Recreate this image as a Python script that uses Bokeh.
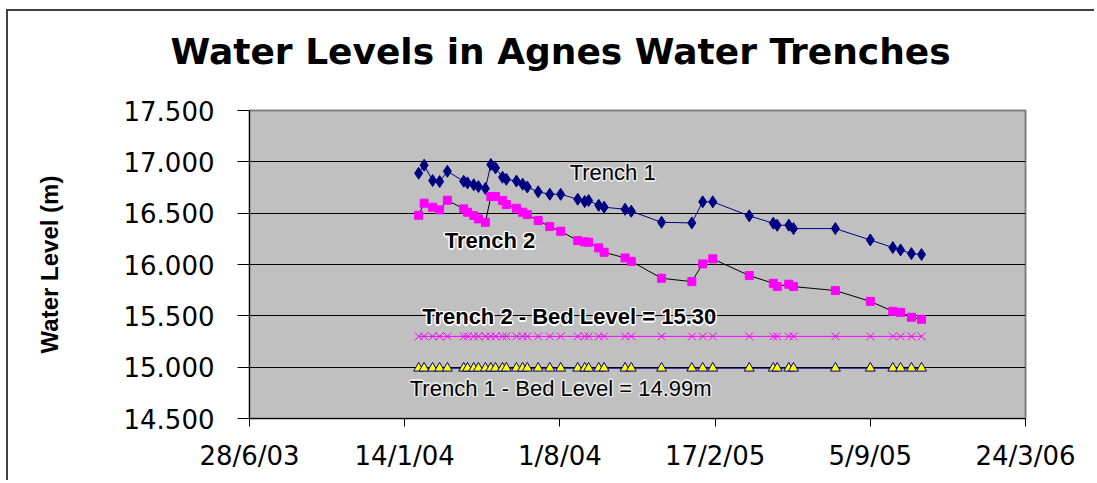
import pandas as pd
from bokeh.plotting import figure
from bokeh.models import Range1d, FixedTicker, NumeralTickFormatter, Label, ColumnDataSource, Title
from bokeh.embed import file_html
from bokeh.resources import INLINE

# ---------------- data ----------------
dates = ["2004-02-01", "2004-02-08", "2004-02-19", "2004-02-28", "2004-03-09", "2004-03-30",
         "2004-04-04", "2004-04-12", "2004-04-18", "2004-04-27", "2004-05-04", "2004-05-10",
         "2004-05-19", "2004-05-24", "2004-06-06", "2004-06-14", "2004-06-20", "2004-07-04",
         "2004-07-19", "2004-08-02", "2004-08-24", "2004-09-02", "2004-09-07", "2004-09-20",
         "2004-09-27", "2004-10-24", "2004-11-01", "2004-12-10", "2005-01-18", "2005-02-01",
         "2005-02-14", "2005-04-02", "2005-05-03", "2005-05-08", "2005-05-23", "2005-05-29",
         "2005-07-22", "2005-09-05", "2005-10-04", "2005-10-14", "2005-10-28", "2005-11-10"]

trench1 = [16.889, 16.967, 16.818, 16.808, 16.908, 16.811, 16.795, 16.776, 16.759, 16.740,
           16.974, 16.941, 16.850, 16.830, 16.813, 16.782, 16.755, 16.708, 16.684, 16.684,
           16.636, 16.613, 16.623, 16.577, 16.558, 16.538, 16.519, 16.411, 16.405, 16.610,
           16.610, 16.474, 16.402, 16.382, 16.383, 16.350, 16.350, 16.239, 16.165, 16.142,
           16.106, 16.097]

trench2 = [16.480, 16.597, 16.558, 16.532, 16.626, 16.542, 16.509, 16.477, 16.444, 16.411,
           16.662, 16.662, 16.623, 16.584, 16.548, 16.509, 16.486, 16.428, 16.369, 16.324,
           16.233, 16.220, 16.217, 16.162, 16.119, 16.064, 16.031, 15.866, 15.833, 16.006,
           16.055, 15.892, 15.817, 15.785, 15.808, 15.785, 15.746, 15.641, 15.544, 15.534,
           15.486, 15.466]

bed2 = [15.30, 15.30, 15.30, 15.30, 15.30, 15.30, 15.30, 15.30, 15.30, 15.30,
        15.30, 15.30, 15.30, 15.30, 15.30, 15.30, 15.30, 15.30, 15.30, 15.30,
        15.30, 15.30, 15.30, 15.30, 15.30, 15.30, 15.30, 15.30, 15.30, 15.30,
        15.30, 15.30, 15.30, 15.30, 15.30, 15.30, 15.30, 15.30, 15.30, 15.30,
        15.30, 15.30]

bed1 = [14.99, 14.99, 14.99, 14.99, 14.99, 14.99, 14.99, 14.99, 14.99, 14.99,
        14.99, 14.99, 14.99, 14.99, 14.99, 14.99, 14.99, 14.99, 14.99, 14.99,
        14.99, 14.99, 14.99, 14.99, 14.99, 14.99, 14.99, 14.99, 14.99, 14.99,
        14.99, 14.99, 14.99, 14.99, 14.99, 14.99, 14.99, 14.99, 14.99, 14.99,
        14.99, 14.99]

x_tick_dates = ["2003-06-28", "2004-01-14", "2004-08-01", "2005-02-17", "2005-09-05", "2006-03-24"]
x_tick_labels = ["28/6/03", "14/1/04", "1/8/04", "17/2/05", "5/9/05", "24/3/06"]
y_ticks = [14.5, 15.0, 15.5, 16.0, 16.5, 17.0, 17.5]

title_text = "Water Levels in Agnes Water Trenches"
y_label = "Water Level (m)"

# series annotations: (text, date, value, halo)
annotations = [
    ("Trench 1", "2004-10-08", 16.896, False),
    ("Trench 2", "2004-05-03", 16.233, True),
    ("Trench 2 - Bed Level = 15.30", "2004-08-13", 15.492, True),
    ("Trench 1 - Bed Level = 14.99m", "2004-08-02", 14.795, False),
]

# ---------------- figure ----------------
def ms(d):
    return int(pd.Timestamp(d).value // 10**6)

x = pd.to_datetime(dates)
src = ColumnDataSource(dict(x=x, t1=trench1, t2=trench2, b2=bed2, b1=bed1))

p = figure(width=1088, height=471, x_axis_type="datetime",
           output_backend="svg", toolbar_location=None,
           x_range=Range1d(ms(x_tick_dates[0]), ms(x_tick_dates[-1])),
           y_range=Range1d(y_ticks[0], y_ticks[-1]),
           min_border_left=241, min_border_right=71,
           min_border_top=99, min_border_bottom=64)
p.styles = {"margin-left": "6px", "margin-top": "9px",
            "border-left": "2px solid #404040", "border-top": "2px solid #404040"}

p.background_fill_color = "#C0C0C0"
p.border_fill_color = "white"
p.outline_line_color = "#808080"
p.outline_line_width = 2

# blank spacer placed next to the frame (items in p.above sit closest to the frame)
p.add_layout(Title(text=" ", text_font_size="1px", standoff=36), "above")

# real chart title, stacked outside the spacer
p.title.text = title_text
p.title.text_font = "DejaVu Sans"
p.title.text_font_style = "bold"
p.title.text_font_size = "36px"
p.title.text_color = "black"
p.title.align = "left"
p.title.offset = -79
p.title.standoff = 0

# axes
xticks = [ms(d) for d in x_tick_dates]
p.xaxis.ticker = FixedTicker(ticks=xticks)
p.xaxis.major_label_overrides = {t: lab for t, lab in zip(xticks, x_tick_labels)}
p.yaxis.ticker = FixedTicker(ticks=y_ticks)
p.yaxis.formatter = NumeralTickFormatter(format="0.000")

for ax in (p.xaxis[0], p.yaxis[0]):
    ax.axis_line_color = "black"
    ax.major_tick_line_color = "black"
    ax.minor_tick_line_color = None
    ax.major_tick_in = 0
    ax.major_label_text_font = "DejaVu Sans"
    ax.major_label_text_font_size = "26px"
    ax.major_label_text_color = "black"

p.xaxis.major_tick_out = 8
p.xaxis.major_label_standoff = 14
p.yaxis.major_tick_out = 12
p.yaxis.major_label_standoff = 23

p.yaxis.axis_label = y_label
p.yaxis.axis_label_text_font = "Liberation Sans"
p.yaxis.axis_label_text_font_style = "bold"
p.yaxis.axis_label_text_font_size = "24px"
p.yaxis.axis_label_text_color = "black"
p.yaxis.axis_label_standoff = 58

p.xgrid.grid_line_color = None
p.ygrid.grid_line_color = "black"
p.ygrid.grid_line_width = 1

# series
p.line("x", "t1", source=src, line_color="#000080", line_width=1)
p.scatter("x", "t1", source=src, marker="diamond", size=12,
          fill_color="#000080", line_color="#000080")

p.line("x", "t2", source=src, line_color="black", line_width=1)
p.scatter("x", "t2", source=src, marker="square", size=8,
          fill_color="#FF00FF", line_color="#FF00FF")

p.line("x", "b2", source=src, line_color="#FF00FF", line_width=1)
p.scatter("x", "b2", source=src, marker="x", size=11,
          line_color="#FF00FF", line_width=1)

p.line("x", "b1", source=src, line_color="#000080", line_width=1)
p.scatter("x", "b1", source=src, marker="triangle", size=10,
          fill_color="#FFFF00", line_color="#000080", line_width=1)

# annotations with halo
offs = [(-1.5, 0), (1.5, 0), (0, -1.5), (0, 1.5), (-1, -1), (1, 1), (-1, 1), (1, -1)]
for text, d, v, halo in annotations:
    common = dict(x=ms(d), y=v, text=text, text_align="center", text_baseline="middle",
                  text_font="Liberation Sans", text_font_size="22px",
                  text_font_style="bold" if halo else "normal")
    halo_color = "white" if halo else "#E8E8E8"
    for dx, dy in offs:
        p.add_layout(Label(x_offset=dx, y_offset=dy, text_color=halo_color, **common))
    p.add_layout(Label(text_color="black", **common))

open("out.html", "w").write(file_html(p, INLINE))
